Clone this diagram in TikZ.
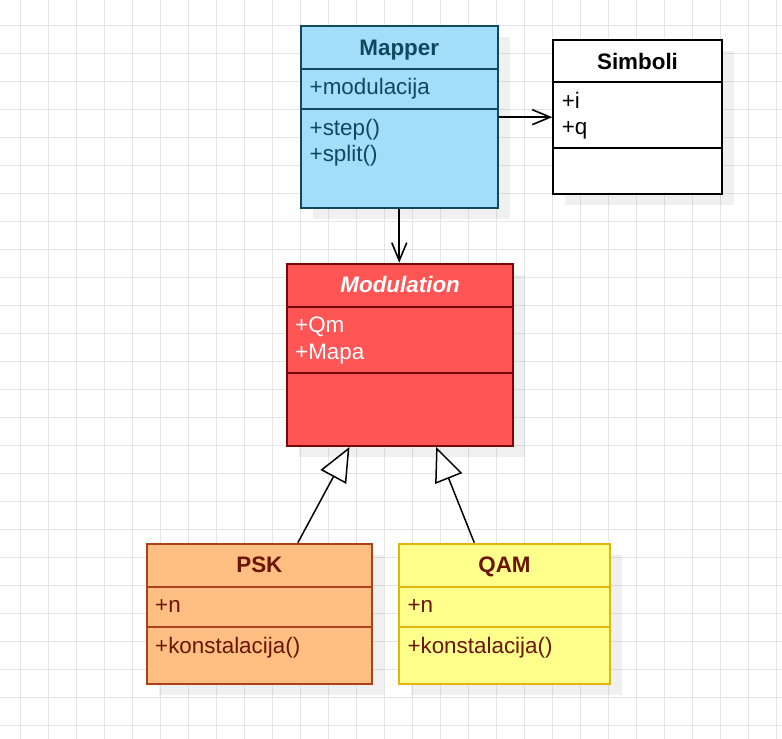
\documentclass[tikz,border=0pt]{standalone}
\usepackage{fontspec}
\setmainfont{Liberation Sans}
\usetikzlibrary{arrows.meta,shadows,calc}
\definecolor{gridc}{HTML}{E6E6E6}
\definecolor{mapfill}{HTML}{A2DDFA}
\definecolor{mapstroke}{HTML}{10485E}
\definecolor{maptext}{HTML}{10485E}
\definecolor{modfill}{HTML}{FF5555}
\definecolor{modstroke}{HTML}{760808}
\definecolor{pskfill}{HTML}{FFBF82}
\definecolor{pskstroke}{HTML}{B0401A}
\definecolor{qamfill}{HTML}{FFFF8C}
\definecolor{qamstroke}{HTML}{E3B40A}
\definecolor{brtext}{HTML}{6B1400}
\begin{document}
\begin{tikzpicture}[x=1pt,y=-1pt,
  umlbox/.style={draw, line width=2pt, inner sep=0pt, anchor=north west,
    drop shadow={shadow xshift=12pt, shadow yshift=-11pt, fill=black, opacity=0.06}},
  title/.style={font=\bfseries\fontsize{22.4}{26.6}\selectfont, anchor=base, inner sep=0pt},
  attr/.style={font=\fontsize{22.4}{26.6}\selectfont, anchor=base west, inner sep=0pt},
  divider/.style={line width=2pt},
  assoc/.style={line width=1.6pt, -{Straight Barb[length=18pt,width=15pt,line width=1.6pt]}},
  inherit/.style={line width=1.5pt, -{Triangle[open, length=34pt, width=29pt, fill=white, line width=1.5pt]}},
  gridline/.style={draw=gridc, line width=1pt}
]
\useasboundingbox (0,0) rectangle (782,739);
\fill[white] (0,0) rectangle (782,739);
% grid
\foreach \k in {0,...,27} \draw[gridline] (20.5+28*\k,0) -- (20.5+28*\k,739);
\foreach \k in {0,...,25} \draw[gridline] (0,25+28*\k) -- (782,25+28*\k);

% Mapper
\node[umlbox, fill=mapfill, draw=mapstroke, minimum width=196.5pt, minimum height=182pt] (mapper) at (300,25) {};
\draw[divider, mapstroke] ($(mapper.north west)+(0,44)$) -- ($(mapper.north east)+(0,44)$);
\draw[divider, mapstroke] ($(mapper.north west)+(0,83.7)$) -- ($(mapper.north east)+(0,83.7)$);
\node[title, text=maptext] (mappert) at ($(mapper.north)+(0,30)$) {Mapper};
\node[attr, text=maptext] (mappera1) at ($(mapper.north west)+(9.5,69.7)$) {+modulacija};
\node[attr, text=maptext] (mapperm1) at ($(mapper.north west)+(9.5,110)$) {+step()};
\node[attr, text=maptext] (mapperm2) at ($(mapper.north west)+(9.5,136.6)$) {+split()};

% Simboli
\node[umlbox, fill=white, draw=black, minimum width=168.4pt, minimum height=154.3pt] (simboli) at (552.3,39) {};
\draw[divider] ($(simboli.north west)+(0,43.3)$) -- ($(simboli.north east)+(0,43.3)$);
\draw[divider] ($(simboli.north west)+(0,109.3)$) -- ($(simboli.north east)+(0,109.3)$);
\node[title] (simbolit) at ($(simboli.north)+(0,30)$) {Simboli};
\node[attr] (simbolia1) at ($(simboli.north west)+(9.3,69)$) {+i};
\node[attr] (simbolia2) at ($(simboli.north west)+(9.3,95.6)$) {+q};

% Modulation
\node[umlbox, fill=modfill, draw=modstroke, minimum width=226.3pt, minimum height=182.3pt] (modulation) at (286,262.7) {};
\draw[divider, modstroke] ($(modulation.north west)+(0,44)$) -- ($(modulation.north east)+(0,44)$);
\draw[divider, modstroke] ($(modulation.north west)+(0,110.3)$) -- ($(modulation.north east)+(0,110.3)$);
\node[title, text=white, font=\bfseries\itshape\fontsize{22.4}{26.6}\selectfont] (modulationt) at ($(modulation.north)+(0,30)$) {Modulation};
\node[attr, text=white] (modulationa1) at ($(modulation.north west)+(9,69.7)$) {+Qm};
\node[attr, text=white] (modulationa2) at ($(modulation.north west)+(9,96.3)$) {+Mapa};

% PSK
\node[umlbox, fill=pskfill, draw=pskstroke, minimum width=224.7pt, minimum height=140.6pt] (psk) at (146,542.7) {};
\draw[divider, pskstroke] ($(psk.north west)+(0,44)$) -- ($(psk.north east)+(0,44)$);
\draw[divider, pskstroke] ($(psk.north west)+(0,84.3)$) -- ($(psk.north east)+(0,84.3)$);
\node[title, text=brtext] (pskt) at ($(psk.north)+(0,30)$) {PSK};
\node[attr, text=brtext] (pska1) at ($(psk.north west)+(9,70)$) {+n};
\node[attr, text=brtext] (pskm1) at ($(psk.north west)+(9,110.3)$) {+konstalacija()};

% QAM
\node[umlbox, fill=qamfill, draw=qamstroke, minimum width=210.4pt, minimum height=140.6pt] (qam) at (398.3,542.7) {};
\draw[divider, qamstroke] ($(qam.north west)+(0,44)$) -- ($(qam.north east)+(0,44)$);
\draw[divider, qamstroke] ($(qam.north west)+(0,84.3)$) -- ($(qam.north east)+(0,84.3)$);
\node[title, text=brtext] (qamt) at ($(qam.north)+(0,30)$) {QAM};
\node[attr, text=brtext] (qama1) at ($(qam.north west)+(9,70)$) {+n};
\node[attr, text=brtext] (qamm1) at ($(qam.north west)+(9,110.3)$) {+konstalacija()};

% connectors
\draw[assoc] (mapper.east |- simboli.west) -- (simboli.west);
\draw[assoc] (mapper.south) -- (mapper.south |- modulation.north);
\draw[inherit] ([xshift=38.5pt]psk.north) -- ([xshift=-50.7pt]modulation.south);
\draw[inherit] ([xshift=-30.2pt]qam.north) -- ([xshift=36pt]modulation.south);
\end{tikzpicture}
\end{document}
